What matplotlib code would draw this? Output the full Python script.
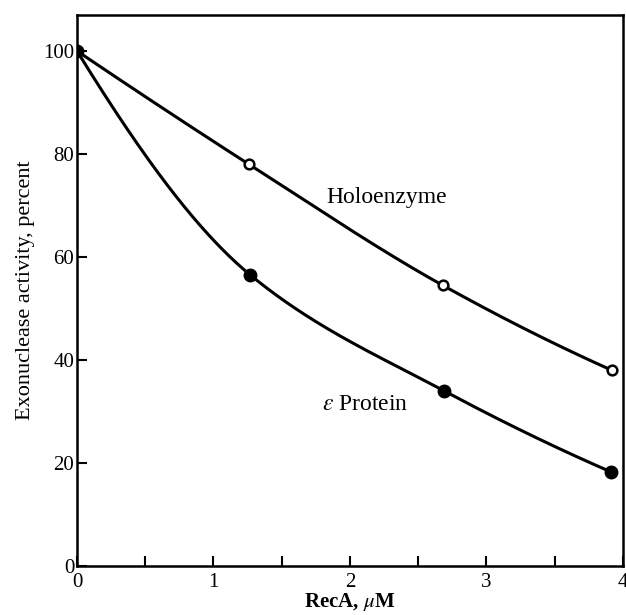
import numpy as np
import matplotlib
matplotlib.use("Agg")
import matplotlib.pyplot as plt
from matplotlib.ticker import MultipleLocator

plt.rcParams['font.family'] = ['Liberation Serif', 'DejaVu Serif']
plt.rcParams['mathtext.fontset'] = 'stix'

# Data
holo_x = [0.0, 1.26, 2.68, 3.92]
holo_y = [100.0, 78.0, 54.5, 38.0]
eps_x = [0.0, 1.27, 2.69, 3.91]
eps_y = [100.0, 56.5, 34.0, 18.3]
x_ticks = [0, 1, 2, 3, 4]
y_ticks = [0, 20, 40, 60, 80, 100]

fig = plt.figure(figsize=(6.26, 6.15), dpi=100)
ax = fig.add_axes([0.123, 0.0797, 0.872, 0.896])


def pchip(xs, ys, n=300):
    x = np.asarray(xs, float)
    y = np.asarray(ys, float)
    h = np.diff(x)
    d = np.diff(y) / h
    m = np.zeros_like(x)
    for k in range(1, len(x) - 1):
        if d[k - 1] * d[k] > 0:
            w1 = 2 * h[k] + h[k - 1]
            w2 = h[k] + 2 * h[k - 1]
            m[k] = (w1 + w2) / (w1 / d[k - 1] + w2 / d[k])
    m[0] = ((2 * h[0] + h[1]) * d[0] - h[0] * d[1]) / (h[0] + h[1])
    m[-1] = ((2 * h[-1] + h[-2]) * d[-1] - h[-1] * d[-2]) / (h[-1] + h[-2])
    xx = np.linspace(x[0], x[-1], n)
    idx = np.clip(np.searchsorted(x, xx) - 1, 0, len(x) - 2)
    t = (xx - x[idx]) / h[idx]
    h00 = 2 * t**3 - 3 * t**2 + 1
    h10 = t**3 - 2 * t**2 + t
    h01 = -2 * t**3 + 3 * t**2
    h11 = t**3 - t**2
    yy = h00 * y[idx] + h10 * h[idx] * m[idx] + h01 * y[idx + 1] + h11 * h[idx] * m[idx + 1]
    return xx, yy


for xs, ys in [(holo_x, holo_y), (eps_x, eps_y)]:
    xx, yy = pchip(xs, ys)
    ax.plot(xx, yy, color='black', lw=2.2, zorder=2)
ax.plot(holo_x[1:], holo_y[1:], 'o', ms=7, mfc='white', mec='black', mew=1.8, zorder=3)
ax.plot(eps_x, eps_y, 'o', ms=9, mfc='black', mec='black', zorder=3)

ax.set_xlim(0, 4)
ax.set_ylim(0, 107)
ax.set_xticks(x_ticks)
ax.set_yticks(y_ticks)
ax.xaxis.set_minor_locator(MultipleLocator(0.5))
ax.tick_params(axis='both', which='both', direction='in', labelsize=15, width=1.5)
ax.tick_params(axis='x', which='major', length=7, pad=5)
ax.tick_params(axis='x', which='minor', length=7)
ax.tick_params(axis='y', which='major', length=7, pad=2)
for s in ax.spines.values():
    s.set_linewidth(1.8)

ax.set_xlabel(r'RecA, $\mathit{\mu}$M', fontsize=15, fontweight='bold', labelpad=-1)
ax.set_ylabel('Exonuclease activity, percent', fontsize=16, labelpad=6)

ax.text(2.27, 71.6, 'Holoenzyme', fontsize=17, ha='center', va='center')
ax.text(2.11, 31.3, r'$\mathit{\varepsilon}$ Protein', fontsize=17, ha='center', va='center')

fig.savefig('out.png', dpi=100)
